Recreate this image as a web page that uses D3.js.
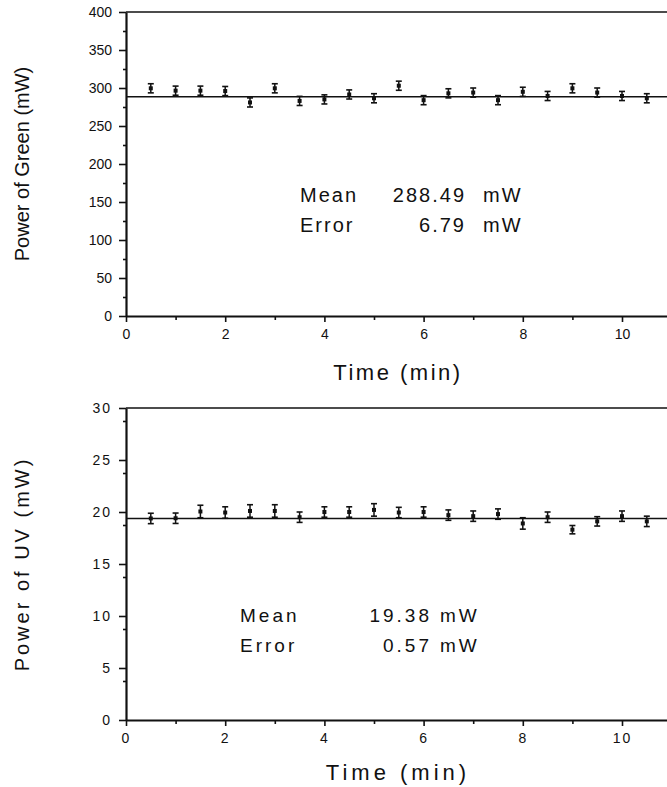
<!DOCTYPE html>
<html>
<head>
<meta charset="utf-8">
<script src="https://cdnjs.cloudflare.com/ajax/libs/d3/7.8.5/d3.min.js"></script>
<style>
body { margin: 0; background: #fff; }
svg text { font-family: "Liberation Sans", Arial, sans-serif; fill: #111; }
</style>
</head>
<body>
<script>
var width = 667,
    height = 787;

// sample times (min)
var times = [0.5, 1, 1.5, 2, 2.5, 3, 3.5, 4, 4.5, 5, 5.5,
             6, 6.5, 7, 7.5, 8, 8.5, 9, 9.5, 10, 10.5];

// green power readings (mW)
var greenPower = [299.6, 296.5, 296.5, 296, 281, 299.6, 283, 285, 291.5, 286.5, 303,
                  284, 293, 294, 284, 295, 289.5, 299.6, 294, 289.5, 286.5];
var greenErr = [6, 6, 6, 6, 6, 6, 6, 6, 6, 6, 6,
                6, 6, 6, 6, 6, 6, 6, 6, 6, 6];
var greenMean = 288.49;
var greenTicks = [0, 50, 100, 150, 200, 250, 300, 350, 400];

// UV power readings (mW)
var uvPower = [19.38, 19.4, 20.05, 19.95, 20.1, 20.1, 19.5, 20.0, 20.0, 20.2, 19.95,
               20.0, 19.7, 19.6, 19.8, 18.9, 19.5, 18.3, 19.1, 19.6, 19.1];
var uvErr = [0.5, 0.5, 0.6, 0.55, 0.6, 0.6, 0.5, 0.5, 0.5, 0.6, 0.5,
             0.5, 0.5, 0.5, 0.5, 0.55, 0.5, 0.4, 0.45, 0.5, 0.5];
var uvMean = 19.38;
var uvTicks = [0, 5, 10, 15, 20, 25, 30];

var timeTicks = [0, 2, 4, 6, 8, 10];

var greenStats = [["Mean", "288.49", "mW"], ["Error", "6.79", "mW"]];
var uvStats = [["Mean", "19.38", "mW"], ["Error", "0.57", "mW"]];

var svg = d3.select("body").append("svg")
    .attr("width", width)
    .attr("height", height);

var x = d3.scaleLinear()
    .domain([0, 11.5])
    .range([126, 126 + 11.5 * 49.6]);

function drawPanel(p) {
  var y = d3.scaleLinear().domain([0, p.top]).range([p.y0, p.y1]);
  var g = svg.append("g");

  // top frame line
  g.append("line")
      .attr("x1", x(0)).attr("x2", x(11.5))
      .attr("y1", y(p.top)).attr("y2", y(p.top))
      .attr("stroke", "#111").attr("stroke-width", 1.6);

  // minor ticks
  g.append("g")
      .attr("transform", "translate(" + x(0) + ",0)")
      .call(d3.axisLeft(y).tickValues(p.ticks.slice(1).map(function(t) { return t - p.step / 2; }))
          .tickSize(3).tickSizeOuter(0).tickFormat(""))
      .call(function(a) { a.select(".domain").remove(); });
  g.append("g")
      .attr("transform", "translate(0," + y(0) + ")")
      .call(d3.axisBottom(x).tickValues([1, 3, 5, 7, 9, 11]).tickSize(4).tickSizeOuter(0).tickFormat(""))
      .call(function(a) { a.select(".domain").remove(); });

  var yAxis = g.append("g")
      .attr("transform", "translate(" + x(0) + ",0)")
      .call(d3.axisLeft(y).tickValues(p.ticks).tickSize(7).tickSizeOuter(0).tickPadding(7));
  var xAxis = g.append("g")
      .attr("transform", "translate(0," + y(0) + ")")
      .call(d3.axisBottom(x).tickValues(timeTicks).tickSize(6).tickSizeOuter(0).tickPadding(7));

  [yAxis, xAxis].forEach(function(a) {
    a.select(".domain").attr("stroke-width", 2.2).attr("stroke", "#111");
    a.selectAll(".tick text").style("font-size", "14px").style("letter-spacing", p.spacing + "px");
  });
  g.selectAll(".tick line").attr("stroke", "#111").attr("stroke-width", 1.6);

  // fit line at the mean
  g.append("line")
      .attr("x1", x(0)).attr("x2", x(11.5))
      .attr("y1", y(p.mean)).attr("y2", y(p.mean))
      .attr("stroke", "#111").attr("stroke-width", 1.4);

  // error bars
  var pts = g.selectAll(".pt")
      .data(times.map(function(t, i) { return {t: t, v: p.values[i], e: p.errs[i]}; }))
      .enter().append("g").attr("class", "pt");
  pts.append("line")
      .attr("x1", function(d) { return x(d.t); }).attr("x2", function(d) { return x(d.t); })
      .attr("y1", function(d) { return y(d.v - d.e); }).attr("y2", function(d) { return y(d.v + d.e); })
      .attr("stroke", "#111").attr("stroke-width", 1.5);
  [-1, 1].forEach(function(s) {
    pts.append("line")
        .attr("x1", function(d) { return x(d.t) - 3; }).attr("x2", function(d) { return x(d.t) + 3; })
        .attr("y1", function(d) { return y(d.v + s * d.e); }).attr("y2", function(d) { return y(d.v + s * d.e); })
        .attr("stroke", "#111").attr("stroke-width", 1.6);
  });
  pts.append("rect")
      .attr("x", function(d) { return x(d.t) - 2; })
      .attr("y", function(d) { return y(d.v) - 2; })
      .attr("width", 4).attr("height", 4)
      .attr("fill", "#111");

  // axis titles
  g.append("text")
      .attr("transform", "translate(" + 29 + "," + ((p.y0 + p.y1) / 2) + ") rotate(-90)")
      .attr("text-anchor", "middle")
      .style("font-size", "20px")
      .style("letter-spacing", p.titleSpacing + "px")
      .text(p.ylabel);
  g.append("text")
      .attr("x", 398).attr("y", p.xTitleY)
      .attr("text-anchor", "middle")
      .style("font-size", "22px")
      .style("letter-spacing", p.xTitleSpacing + "px")
      .text("Time (min)");

  // statistics box
  p.stats.forEach(function(row, i) {
    var yy = p.statY + i * 30;
    var cells = [[p.statX[0], "start"], [p.statX[1], "end"], [p.statX[2], "start"]];
    cells.forEach(function(c, j) {
      g.append("text").attr("x", c[0]).attr("y", yy)
          .attr("text-anchor", c[1])
          .style("font-size", p.statSize + "px")
          .style("letter-spacing", p.statSpacing + "px")
          .text(row[j]);
    });
  });
}

drawPanel({
  top: 400, step: 50, ticks: greenTicks, y0: 316, y1: 12,
  values: greenPower, errs: greenErr, mean: greenMean,
  ylabel: "Power of Green (mW)", xTitleY: 380,
  stats: greenStats, statX: [300, 466, 483], statY: 202, statSize: 20,
  spacing: 0, titleSpacing: 0, xTitleSpacing: 2.5, statSpacing: 2
});

drawPanel({
  top: 30, step: 2.5, ticks: uvTicks, y0: 720, y1: 408,
  values: uvPower, errs: uvErr, mean: uvMean,
  ylabel: "Power of UV (mW)", xTitleY: 780,
  stats: uvStats, statX: [240, 432, 440], statY: 622, statSize: 19,
  spacing: 2, titleSpacing: 3, xTitleSpacing: 4, statSpacing: 3
});
</script>
</body>
</html>
